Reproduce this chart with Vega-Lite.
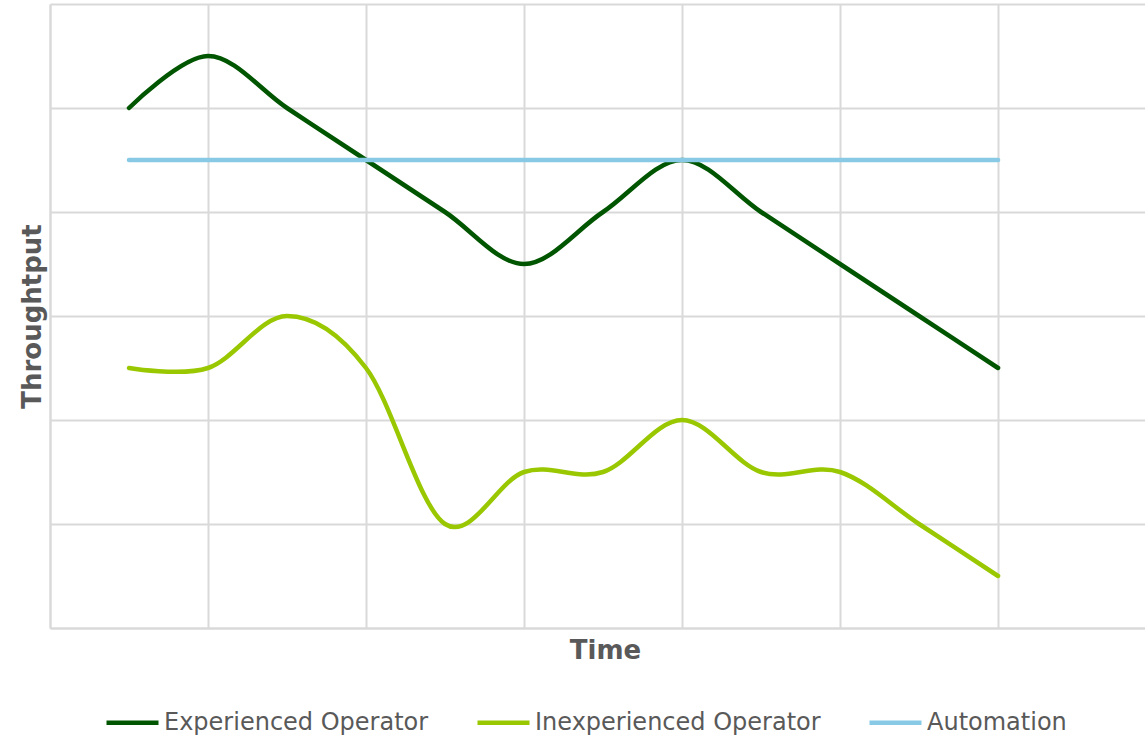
{
  "$schema": "https://vega.github.io/schema/vega-lite/v6.json",
  "width": 1095,
  "height": 624,
  "autosize": {"type": "none"},
  "padding": {"left": 50, "top": 4, "right": 0, "bottom": 110},
  "background": "white",
  "config": {
    "view": {"stroke": null},
    "font": "DejaVu Sans"
  },
  "data": {
    "values": [
      {"t": 1, "series": "Experienced Operator", "v": 5},
      {"t": 2, "series": "Experienced Operator", "v": 5.5},
      {"t": 3, "series": "Experienced Operator", "v": 5},
      {"t": 4, "series": "Experienced Operator", "v": 4.5},
      {"t": 5, "series": "Experienced Operator", "v": 4},
      {"t": 6, "series": "Experienced Operator", "v": 3.5},
      {"t": 7, "series": "Experienced Operator", "v": 4},
      {"t": 8, "series": "Experienced Operator", "v": 4.5},
      {"t": 9, "series": "Experienced Operator", "v": 4},
      {"t": 10, "series": "Experienced Operator", "v": 3.5},
      {"t": 11, "series": "Experienced Operator", "v": 3},
      {"t": 12, "series": "Experienced Operator", "v": 2.5},
      {"t": 1, "series": "Inexperienced Operator", "v": 2.5},
      {"t": 2, "series": "Inexperienced Operator", "v": 2.5},
      {"t": 3, "series": "Inexperienced Operator", "v": 3},
      {"t": 4, "series": "Inexperienced Operator", "v": 2.5},
      {"t": 5, "series": "Inexperienced Operator", "v": 1},
      {"t": 6, "series": "Inexperienced Operator", "v": 1.5},
      {"t": 7, "series": "Inexperienced Operator", "v": 1.5},
      {"t": 8, "series": "Inexperienced Operator", "v": 2},
      {"t": 9, "series": "Inexperienced Operator", "v": 1.5},
      {"t": 10, "series": "Inexperienced Operator", "v": 1.5},
      {"t": 11, "series": "Inexperienced Operator", "v": 1},
      {"t": 12, "series": "Inexperienced Operator", "v": 0.5},
      {"t": 1, "series": "Automation", "v": 4.5},
      {"t": 2, "series": "Automation", "v": 4.5},
      {"t": 3, "series": "Automation", "v": 4.5},
      {"t": 4, "series": "Automation", "v": 4.5},
      {"t": 5, "series": "Automation", "v": 4.5},
      {"t": 6, "series": "Automation", "v": 4.5},
      {"t": 7, "series": "Automation", "v": 4.5},
      {"t": 8, "series": "Automation", "v": 4.5},
      {"t": 9, "series": "Automation", "v": 4.5},
      {"t": 10, "series": "Automation", "v": 4.5},
      {"t": 11, "series": "Automation", "v": 4.5},
      {"t": 12, "series": "Automation", "v": 4.5}
    ]
  },
  "mark": {"type": "line", "interpolate": "cardinal", "strokeWidth": 4.5, "strokeCap": "round", "strokeJoin": "round"},
  "encoding": {
    "x": {
      "field": "t",
      "type": "quantitative",
      "scale": {"domain": [0, 13.86], "nice": false, "zero": false},
      "axis": {
        "title": "Time",
        "values": [0, 2, 4, 6, 8, 10, 12],
        "labels": false,
        "ticks": false,
        "grid": true,
        "gridColor": "#d9d9d9",
        "gridWidth": 2,
        "domainColor": "#d9d9d9",
        "domainWidth": 2,
        "titleFont": "DejaVu Sans",
        "titleFontSize": 26,
        "titleFontWeight": "bold",
        "titleColor": "#595959",
        "titlePadding": 9,
        "titleX": 555
      }
    },
    "y": {
      "field": "v",
      "type": "quantitative",
      "scale": {"domain": [0, 6], "nice": false},
      "axis": {
        "title": "Throughtput",
        "values": [0, 1, 2, 3, 4, 5, 6],
        "labels": false,
        "ticks": false,
        "grid": true,
        "gridColor": "#d9d9d9",
        "gridWidth": 2,
        "domainColor": "#d9d9d9",
        "domainWidth": 2,
        "titleFont": "DejaVu Sans",
        "titleFontSize": 26,
        "titleFontWeight": "bold",
        "titleColor": "#595959",
        "titlePadding": 5
      }
    },
    "color": {
      "field": "series",
      "type": "nominal",
      "scale": {
        "domain": ["Experienced Operator", "Inexperienced Operator", "Automation"],
        "range": ["#005500", "#99c800", "#88cae6"]
      },
      "legend": {
        "title": null,
        "orient": "none",
        "direction": "horizontal",
        "legendX": 54,
        "legendY": 690,
        "symbolType": "stroke",
        "symbolSize": 2704,
        "symbolStrokeWidth": 4.5,
        "labelFont": "DejaVu Sans",
        "labelFontSize": 24,
        "labelColor": "#595959",
        "labelOffset": 3,
        "columnPadding": 39,
        "labelLimit": 400
      }
    },
    "order": {"field": "t", "type": "quantitative"}
  }
}
